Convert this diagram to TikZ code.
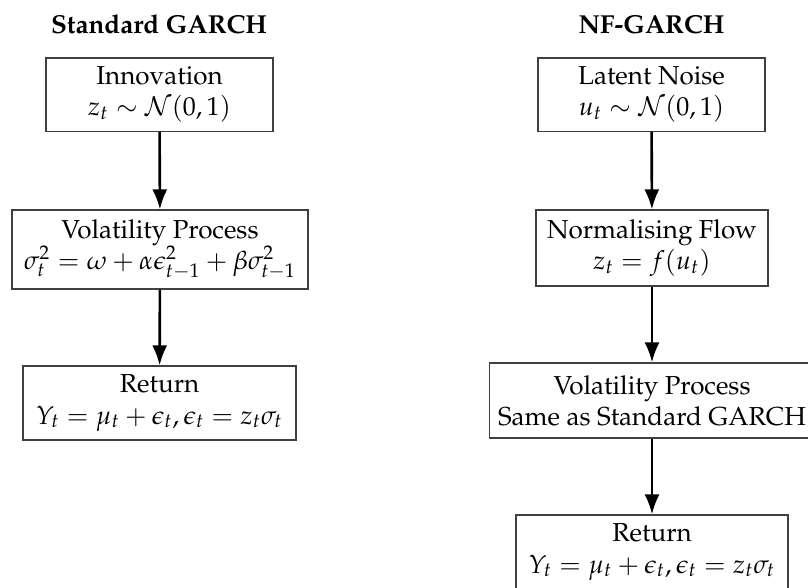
\documentclass[tikz,border=0pt]{standalone}
\usepackage[T1]{fontenc}
\usepackage{mathpazo}
\usetikzlibrary{arrows.meta}
\def\u{0.3846pt}
\tikzset{
  box/.style={draw=black!75, line width=0.45pt, align=center, inner sep=3.3pt, minimum height=73*\u},
  flow/.style={-{Latex[length=20*\u, width=15*\u]}, line width=2.6*\u, black},
  ttl/.style={font=\bfseries, anchor=base}
}
\begin{document}
\begin{tikzpicture}[x=\u, y=-\u]
\useasboundingbox (0,0) rectangle (808,587);
% titles
\node[ttl] (tl) at (159,33) {Standard GARCH};
\node[ttl] (tr) at (651.5,33) {NF-GARCH};
% left column
\node[box, minimum width=227*\u] (l1) at (159.5,94.5) {Innovation\\ $z_t \sim \mathcal{N}(0,1)$};
\node[box, minimum width=296*\u, minimum height=79*\u] (l2) at (160,249.5) {Volatility Process\\ $\sigma_t^2 = \omega + \alpha\epsilon_{t-1}^2 + \beta\sigma_{t-1}^2$};
\node[box, minimum width=273*\u, minimum height=74*\u] (l3) at (159.5,403) {Return\\ $Y_t = \mu_t + \epsilon_t, \epsilon_t = z_t\sigma_t$};
% right column
\node[box, minimum width=227*\u] (r1) at (651.5,94.5) {Latent Noise\\ $u_t \sim \mathcal{N}(0,1)$};
\node[box, minimum width=232*\u, minimum height=76*\u] (r2) at (652,248) {Normalising Flow\\ $z_t = f(u_t)$};
\node[box, minimum height=75*\u] (r3) at (652,400.5) {Volatility Process\\ Same as Standard GARCH};
\node[box, minimum width=272*\u, minimum height=74*\u] (r4) at (652,552) {Return\\ $Y_t = \mu_t + \epsilon_t, \epsilon_t = z_t\sigma_t$};
% arrows
\draw[flow] (l1) -- (l2);
\draw[flow] (l2) -- (l3);
\draw[flow] (r1) -- (r2);
\draw[flow] (r2) -- (r3);
\draw[flow] (r3) -- (r4);
\end{tikzpicture}
\end{document}
